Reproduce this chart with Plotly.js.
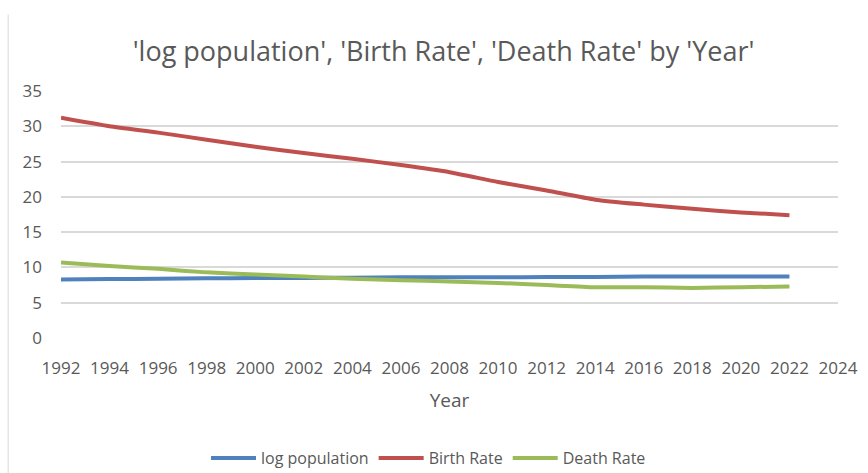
<!DOCTYPE html>
<html>
<head>
<meta charset="utf-8">
<script src="https://cdn.plot.ly/plotly-3.0.1.min.js"></script>
<style>html,body{margin:0;padding:0;background:#fff;}#chart{width:868px;height:473px;}</style>
</head>
<body>
<div id="chart"></div>
<script>
const years = [1992,1994,1996,1998,2000,2002,2004,2006,2008,2010,2012,2014,2016,2018,2020,2022];
const logPopulation = [8.3,8.35,8.4,8.45,8.5,8.5,8.55,8.6,8.6,8.6,8.65,8.65,8.7,8.7,8.7,8.7];
const birthRate = [31.2,30.0,29.1,28.1,27.1,26.2,25.4,24.5,23.5,22.1,20.9,19.6,18.9,18.3,17.8,17.4];
const deathRate = [10.7,10.2,9.8,9.3,9.0,8.7,8.4,8.2,8.0,7.8,7.5,7.2,7.2,7.1,7.2,7.3];
const xTicks = [1992,1994,1996,1998,2000,2002,2004,2006,2008,2010,2012,2014,2016,2018,2020,2022,2024];
const yTicks = [0,5,10,15,20,25,30,35];

const font = "Open Sans, Liberation Sans, sans-serif";
const mk = (name, y, color) => ({
  x: years, y: y, name: name, type: 'scatter', mode: 'lines',
  line: {color: color, width: 4, shape: 'spline', smoothing: 0.6}
});
const data = [
  mk('log population', logPopulation, '#4F81BD'),
  mk('Birth Rate', birthRate, '#C0504D'),
  mk('Death Rate', deathRate, '#9BBB59')
];
const layout = {
  width: 868, height: 473,
  margin: {l: 61, r: 30, t: 91, b: 135, autoexpand: false},
  paper_bgcolor: '#fff', plot_bgcolor: '#fff',
  font: {family: font, color: '#595959', size: 16},
  title: {text: "'log population', 'Birth Rate', 'Death Rate' by 'Year'",
          font: {family: font, size: 27, color: '#595959'},
          x: 0.511, xanchor: 'center', y: 0.89, yanchor: 'middle'},
  xaxis: {range: [1992, 2024], tickvals: xTicks, ticktext: xTicks.map(String),
          showgrid: false, zeroline: false, showline: false, ticks: '',
          ticklabelstandoff: 18, tickfont: {size: 17, color: '#595959'},
          title: {text: 'Year', font: {size: 19, color: '#595959'}, standoff: 15}},
  yaxis: {range: [0, 35], tickvals: yTicks, showgrid: true, gridcolor: '#d9d9d9', gridwidth: 1.5,
          zeroline: false, showline: false, ticks: '', ticklabelstandoff: 18,
          tickfont: {size: 17, color: '#595959'}},
  showlegend: true,
  legend: {orientation: 'h', x: 0.473, xanchor: 'center', y: -0.486, yanchor: 'middle',
           font: {size: 16, color: '#595959'}, tracegroupgap: 0, itemwidth: 45},
  shapes: [{type: 'line', xref: 'paper', yref: 'paper', x0: -0.068, x1: -0.068, y0: 1.31, y1: -0.56,
            line: {color: '#d9d9d9', width: 1}}]
};
Plotly.newPlot('chart', data, layout, {displayModeBar: false});
</script>
</body>
</html>
